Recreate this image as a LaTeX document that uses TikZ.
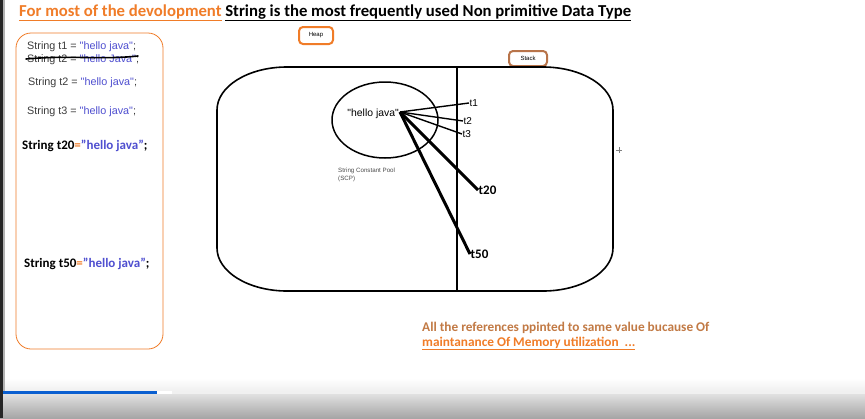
\documentclass[tikz,border=0pt]{standalone}
\usepackage{fontspec}
\setmainfont{Carlito}
\newfontfamily\arialf{Liberation Sans}
\definecolor{orng}{HTML}{F07C28}
\definecolor{brn}{HTML}{B8744A}
\definecolor{codeblue}{HTML}{4F4FD0}
\definecolor{codegray}{HTML}{3C3C3C}
\definecolor{notecol}{HTML}{C27A45}
\definecolor{progblue}{HTML}{0A5FD0}
\tikzset{
  codesmall/.style={anchor=base west, inner sep=0pt, font=\arialf\fontsize{10.8}{12}\selectfont, text=codegray},
  codebold/.style={anchor=base west, inner sep=0pt, font=\bfseries\fontsize{13}{14}\selectfont},
  reflbl/.style={anchor=west, inner sep=0.5pt, font=\arialf\fontsize{10}{11}\selectfont},
  reflblb/.style={anchor=west, inner sep=0.5pt, font=\bfseries\fontsize{13}{14}\selectfont},
  thinref/.style={line width=1.4pt},
  thickref/.style={line width=3pt},
  tagbox/.style={draw, line width=2pt, rounded corners=4pt, inner sep=0pt, font=\arialf\fontsize{6}{7}\selectfont},
}
\begin{document}
\begin{tikzpicture}[x=1pt,y=-1pt]
\useasboundingbox (0,0) rectangle (865,418);
\fill[white] (0,0) rectangle (865,418);
% left window edge
\fill[black!85] (0,0) rectangle (3,418);
\fill[black!30] (3,0) rectangle (5,418);

% title
\node[anchor=base west, inner sep=0pt, font=\bfseries\fontsize{16.7}{18}\selectfont] (title) at (19,16)
  {\textcolor{orng}{\underline{For most of the devolopment}} \underline{String is the most frequently used Non primitive Data Type}};

% left code box
\draw[orng, line width=0.8pt, rounded corners=15pt] (16,33) rectangle (163,349);
\node[codesmall] (c1) at (27,49) {String t1 = \textcolor{codeblue}{"hello java"};};
\node[codesmall] (c2) at (27,62) {String t2 = \textcolor{codeblue}{"hello Java"};};
\draw[line width=1.6pt, line cap=round] (26,59) .. controls (70,55) and (100,60) .. (138,56);
\node[codesmall] (c3) at (28,85) {String t2 = \textcolor{codeblue}{"hello java"};};
\node[codesmall] (c4) at (27,114) {String t3 = \textcolor{codeblue}{"hello java"};};
\node[codebold] (c5) at (22,149) {String t20\textcolor{orng}{=}\textcolor{codeblue}{"hello java"};};
\node[codebold] (c6) at (24,267) {String t50\textcolor{orng}{=}\textcolor{codeblue}{"hello java"};};

% heap / stack tags
\node[tagbox, draw=orng, minimum width=34pt, minimum height=17pt] (heap) at (316,35.5) {Heap};
\node[tagbox, draw=brn, minimum width=38pt, minimum height=15pt] (stack) at (528,58.5) {Stack};

% memory outline
\draw[line width=1.6pt] (287,67) -- (543,67)
  arc[start angle=-90, end angle=0, x radius=70, y radius=43] -- (613,248)
  arc[start angle=0, end angle=90, x radius=70, y radius=43] -- (287,291)
  arc[start angle=90, end angle=180, x radius=70, y radius=43] -- (217,110)
  arc[start angle=180, end angle=270, x radius=70, y radius=43] -- cycle;
\draw[line width=1.6pt] (457,67) -- (457,291);

% string constant pool
\draw[line width=1.5pt] (385,120) ellipse [x radius=53, y radius=38];
\node[anchor=base east, inner sep=0pt, font=\arialf\fontsize{10.4}{11}\selectfont] (hello) at (399,116) {"hello java"};
\coordinate (src) at (400,112);
\node[anchor=north west, inner sep=0pt, align=left, font=\arialf\fontsize{6.2}{7.5}\selectfont, text=black!70] (scp) at (338,168) {String Constant Pool\\(SCP)};

% references
\node[reflbl] (t1) at (469,103) {t1};
\node[reflbl] (t2) at (463,121) {t2};
\node[reflbl] (t3) at (462,134) {t3};
\node[reflblb] (t20) at (478,190) {t20};
\node[reflblb] (t50) at (470,254) {t50};
\draw[thinref] (src) -- (t1.west);
\draw[thinref] (src) -- (t2.west);
\draw[thinref] (src) -- (t3.west);
\draw[thickref] (src) -- (t20.west);
\draw[thickref] (src) -- (t50.west);

% cursor cross
\draw[gray, line width=0.5pt] (616,150) -- (622,150) (619,147) -- (619,153);

% note
\node[anchor=base west, inner sep=0pt, font=\bfseries\fontsize{13.3}{14}\selectfont, text=notecol] (note1) at (422,331) {All the references ppinted to same value bucause Of};
\node[anchor=base west, inner sep=0pt, font=\bfseries\fontsize{13.3}{14}\selectfont, text=orng] (note2) at (422,346) {\underline{maintanance Of Memory utilization\ \ ...}};

% player bar
\shade[top color=white, bottom color=black!6] (5,378) rectangle (865,391);
\fill[black!6] (0,391) rectangle (865,394);
\fill[white] (157,391) rectangle (172,394);
\fill[progblue] (0,391) rectangle (157,394);
\shade[top color=black!12, bottom color=black!35] (0,394) rectangle (865,418);
\fill[black!85] (0,391) rectangle (3,418);
\end{tikzpicture}
\end{document}
